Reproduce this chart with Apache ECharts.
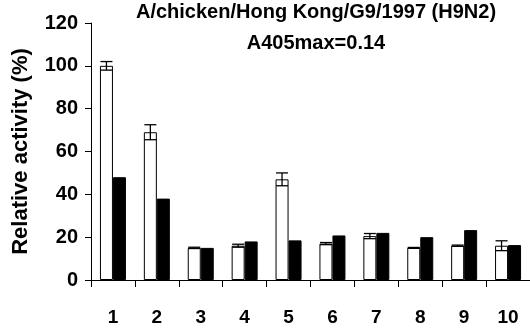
<!DOCTYPE html>
<html><head><meta charset="utf-8">
<script src="https://cdn.jsdelivr.net/npm/echarts@6/dist/echarts.min.js"></script>
<style>html,body{margin:0;padding:0;background:#fff}#c{width:530px;height:335px}</style>
</head><body><div id="c"></div>
<script>
const categories = ['1','2','3','4','5','6','7','8','9','10'];
const whiteValues = [100, 69, 15, 16, 47, 17, 20.5, 15, 16, 16];
const whiteErrors = [2, 3.5, 0.3, 0.7, 3, 0.5, 1.2, 0.2, 0.3, 2.3];
const blackValues = [48, 38, 15, 18, 18.5, 20.8, 22, 20, 23.3, 16.3];
const yTicks = [0, 20, 40, 60, 80, 100, 120];
const titleLines = ['A/chicken/Hong Kong/G9/1997 (H9N2)', 'A405max=0.14'];

const errData = whiteValues.map((v, i) => [i, v - whiteErrors[i], v + whiteErrors[i]]);
const BW = 13;
const font = 'Liberation Sans, Arial, sans-serif';
const tStyle = { fontFamily: font, fontWeight: 'bold', fontSize: 20, color: '#000' };

const chart = echarts.init(document.getElementById('c'));
chart.setOption({
  animation: false,
  title: [
    { text: titleLines[0], left: 316, top: 2, textAlign: 'center', padding: 0, textStyle: tStyle },
    { text: titleLines[1], left: 316, top: 33, textAlign: 'center', padding: 0, textStyle: tStyle }
  ],
  grid: { left: 91, right: -1, top: 23, bottom: 55, containLabel: false },
  xAxis: {
    type: 'category', data: categories,
    axisLine: { lineStyle: { color: '#000', width: 1 } },
    axisTick: { show: true, length: 7, lineStyle: { color: '#000' } },
    axisLabel: { color: '#000', fontFamily: font, fontWeight: 'bold', fontSize: 19, margin: 28 }
  },
  yAxis: {
    type: 'value', min: 0, max: 120, interval: 20,
    name: 'Relative activity (%)', nameLocation: 'middle', nameGap: 59,
    nameTextStyle: { color: '#000', fontFamily: font, fontWeight: 'bold', fontSize: 22 },
    axisLine: { show: true, lineStyle: { color: '#000', width: 1 } },
    axisTick: { show: true, length: 6, lineStyle: { color: '#000' } },
    splitLine: { show: false },
    axisLabel: { color: '#000', fontFamily: font, fontWeight: 'bold', fontSize: 20, margin: 13,
      formatter: v => yTicks.includes(v) ? String(v) : '' }
  },
  series: [
    { type: 'bar', data: whiteValues, barWidth: BW, barGap: '0%',
      itemStyle: { color: '#fff', borderColor: '#000', borderWidth: 1 } },
    { type: 'bar', data: blackValues, barWidth: BW, barGap: '0%',
      itemStyle: { color: '#000', borderColor: '#000', borderWidth: 1 } },
    { type: 'custom', data: errData, encode: { x: 0, y: [1, 2] }, z: 10,
      renderItem: function (params, api) {
        const idx = api.value(0);
        const lo = api.coord([idx, api.value(1)]);
        const hi = api.coord([idx, api.value(2)]);
        const x = lo[0] - BW / 2;
        const half = 6;
        const st = { stroke: '#000', lineWidth: 1.3, fill: null };
        return { type: 'group', children: [
          { type: 'line', shape: { x1: x, y1: lo[1], x2: x, y2: hi[1] }, style: st },
          { type: 'line', shape: { x1: x - half, y1: lo[1], x2: x + half, y2: lo[1] }, style: st },
          { type: 'line', shape: { x1: x - half, y1: hi[1], x2: x + half, y2: hi[1] }, style: st }
        ]};
      }
    }
  ]
});
</script></body></html>
